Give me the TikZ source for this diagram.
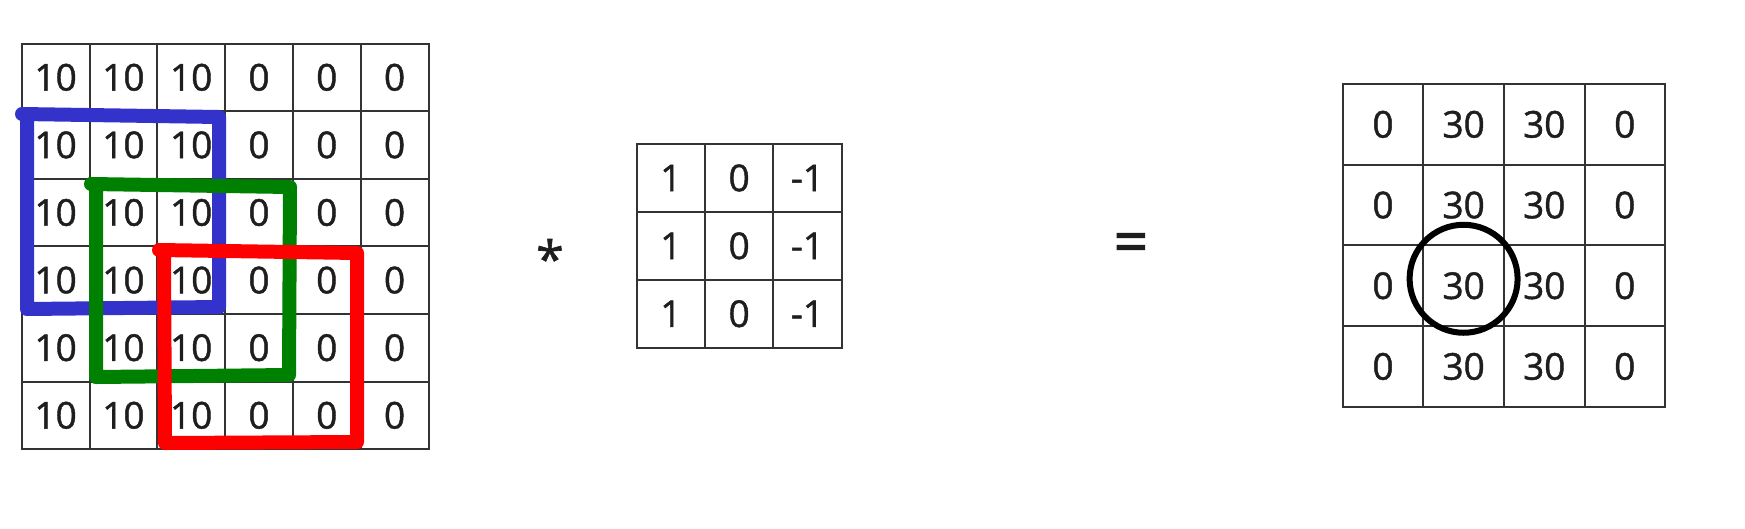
\documentclass[tikz,border=0pt]{standalone}
\usepackage{fontspec}
\setmainfont{Open Sans}
\newfontfamily\digitfont{Open Sans}[FakeBold=1.2]
\newfontfamily\opfont{Open Sans}[FakeBold=2]
\definecolor{gridc}{HTML}{333333}
\definecolor{txt}{HTML}{1E1E1E}
\definecolor{bluebox}{HTML}{3333CC}
\definecolor{greenbox}{HTML}{008000}
\definecolor{redbox}{HTML}{FF0000}
\begin{document}
\begin{tikzpicture}[x=1pt,y=-1pt,
  cell/.style={draw=gridc, line width=2pt, inner sep=0pt, text=txt,
    font=\digitfont\fontsize{37}{40}\selectfont},
  incell/.style={cell, minimum width=67.8pt, minimum height=67.6pt},
  kcell/.style={cell, minimum width=68.3pt, minimum height=67.9pt},
  ocell/.style={cell, minimum width=80.6pt, minimum height=80.7pt},
  win/.style={line width=14pt, line join=round, line cap=round},
  op/.style={text=txt, inner sep=0pt}]
\useasboundingbox[fill=white] (0,0) rectangle (1745,528);
% input 6x6
\foreach \r in {1,...,6}{\foreach \c in {1,...,6}{
  \ifnum\c<4 \def\v{10}\else\def\v{0}\fi
  \node[incell] (in-\r-\c) at ({21.7+67.8*(\c-0.5)},{43.5+67.6*(\r-0.5)}) {\v};
}}
% kernel 3x3
\foreach \r in {1,2,3}{\foreach \c/\v in {1/1,2/0,3/-1}{
  \node[kcell] (k-\r-\c) at ({636.7+68.3*(\c-0.5)},{144+67.9*(\r-0.5)}) {\v};
}}
% output 4x4
\foreach \r in {1,...,4}{\foreach \c/\v in {1/0,2/30,3/30,4/0}{
  \node[ocell] (out-\r-\c) at ({1342.7+80.6*(\c-0.5)},{84+80.7*(\r-0.5)}) {\v};
}}
% operators
\node[op, font=\digitfont\fontsize{50}{54}\selectfont] (star) at (550,258) {*};
\node[op, font=\opfont\fontsize{60}{64}\selectfont] (eq) at (1131,248) {=};
% sliding windows
\draw[win, bluebox] (22,114) -- (219,117) -- (219,307) -- (27,309) -- (27,116);
\draw[win, greenbox] (91,184) -- (290,187) -- (289,375) -- (96,377) -- (96,186);
\draw[win, redbox] (159,250) -- (357,253) -- (357,442) -- (165,443) -- (164,252);
% highlight circle
\node[draw=black, circle, line width=6pt, minimum size=108pt, inner sep=0pt] (hl)
  at ([yshift=7pt]out-3-2.center) {};
\end{tikzpicture}
\end{document}
